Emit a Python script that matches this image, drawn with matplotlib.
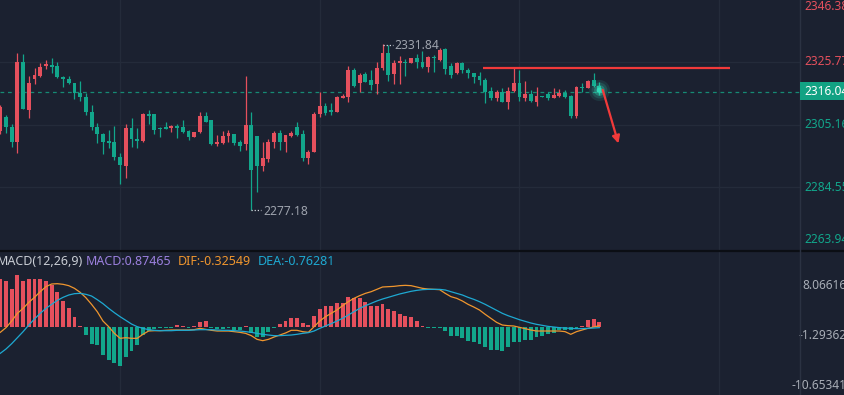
import numpy as np
import matplotlib.pyplot as plt
from matplotlib import transforms
from matplotlib.lines import Line2D
from matplotlib.patches import Rectangle

plt.rcParams['font.family'] = ['Noto Sans', 'DejaVu Sans']

# candles (red = up, green = down)
opens = [2303.1, 2307.7, 2304.4, 2299.5, 2325.8, 2310.0, 2320.2, 2321.2, 2324.5, 2324.8,
         2324.5, 2320.8, 2320.2, 2318.9, 2315.6, 2314.3, 2309.3, 2304.4, 2302.1, 2299.8,
         2299.5, 2294.5, 2291.6, 2304.1, 2300.5, 2299.8, 2308.7, 2308.7, 2304.1, 2304.4,
         2304.1, 2304.7, 2304.4, 2303.1, 2301.1, 2302.8, 2308.0, 2306.7, 2298.8, 2299.2,
         2301.5, 2302.1, 2299.5, 2298.8, 2305.1, 2301.5, 2291.6, 2293.9, 2299.5, 2302.4,
         2299.5, 2301.5, 2304.4, 2302.1, 2294.2, 2296.2, 2308.7, 2311.3, 2310.0, 2309.3,
         2313.9, 2314.3, 2323.1, 2318.9, 2321.8, 2319.9, 2318.5, 2323.8, 2328.7, 2321.8,
         2325.4, 2325.8, 2325.4, 2327.1, 2325.8, 2324.1, 2327.4, 2326.4, 2330.0, 2324.5,
         2322.2, 2325.4, 2323.1, 2322.2, 2321.2, 2319.9, 2316.2, 2313.9, 2315.9, 2312.6,
         2316.2, 2318.9, 2313.9, 2315.3, 2312.6, 2314.6, 2315.3, 2313.9, 2314.6, 2315.6,
         2314.6, 2308.0, 2317.6, 2317.2, 2319.9, 2317.9]
highs = [2311.6, 2308.3, 2305.4, 2328.7, 2328.4, 2321.2, 2323.8, 2325.4, 2326.4, 2327.1,
         2325.8, 2321.2, 2321.2, 2318.9, 2319.5, 2315.6, 2311.6, 2305.7, 2302.4, 2303.4,
         2304.7, 2295.9, 2305.4, 2307.4, 2304.1, 2309.0, 2310.0, 2308.7, 2304.4, 2306.0,
         2305.1, 2305.4, 2306.7, 2303.4, 2302.8, 2309.3, 2309.3, 2306.7, 2301.8, 2303.1,
         2303.4, 2302.1, 2300.1, 2321.2, 2309.3, 2301.5, 2299.5, 2300.5, 2303.1, 2303.4,
         2301.8, 2303.1, 2306.1, 2303.4, 2296.9, 2309.3, 2315.9, 2312.3, 2312.3, 2314.6,
         2315.3, 2324.5, 2323.8, 2322.2, 2322.5, 2323.1, 2325.8, 2331.84, 2331.4, 2326.4,
         2327.7, 2326.8, 2327.1, 2328.4, 2329.4, 2327.7, 2328.1, 2330.4, 2330.4, 2325.4,
         2325.8, 2325.8, 2323.8, 2322.2, 2322.5, 2320.5, 2317.6, 2316.6, 2317.2, 2317.6,
         2323.8, 2323.1, 2319.5, 2316.6, 2317.6, 2314.6, 2315.9, 2317.2, 2316.9, 2316.6,
         2314.9, 2317.9, 2318.9, 2319.9, 2322.2, 2319.2]
lows = [2302.1, 2302.4, 2297.8, 2295.9, 2310.2, 2307.4, 2318.5, 2320.8, 2323.5, 2322.2,
        2320.5, 2317.6, 2318.5, 2313.6, 2312.9, 2308.3, 2303.4, 2299.2, 2295.5, 2297.5,
        2293.6, 2285.7, 2287.6, 2297.8, 2297.5, 2299.5, 2305.4, 2302.1, 2301.1, 2303.7,
        2302.8, 2300.8, 2302.4, 2300.1, 2301.1, 2302.4, 2306.1, 2298.5, 2298.2, 2298.8,
        2299.5, 2298.5, 2296.5, 2296.9, 2277.18, 2283.0, 2289.9, 2292.9, 2297.5, 2296.9,
        2296.2, 2301.1, 2301.5, 2293.2, 2292.2, 2296.2, 2307.7, 2308.4, 2308.4, 2309.3,
        2313.9, 2312.6, 2317.6, 2315.9, 2319.2, 2316.6, 2315.3, 2323.1, 2319.5, 2318.5,
        2318.5, 2321.2, 2325.4, 2323.8, 2323.8, 2322.5, 2322.5, 2326.1, 2321.8, 2320.5,
        2321.8, 2322.2, 2320.5, 2318.9, 2318.2, 2312.3, 2313.3, 2312.9, 2312.6, 2310.3,
        2315.9, 2312.9, 2312.9, 2312.6, 2311.3, 2314.3, 2313.3, 2313.9, 2314.3, 2313.9,
        2307.4, 2307.4, 2315.9, 2317.2, 2317.6, 2314.9]
closes = [2311.0, 2304.4, 2299.5, 2325.8, 2310.3, 2318.9, 2321.5, 2324.1, 2325.1, 2324.1,
          2320.8, 2320.2, 2318.9, 2315.6, 2314.3, 2309.3, 2304.4, 2302.1, 2299.5, 2299.2,
          2294.5, 2291.9, 2304.1, 2300.5, 2299.8, 2308.7, 2308.0, 2303.4, 2303.7, 2303.7,
          2304.7, 2304.1, 2302.8, 2301.1, 2302.8, 2308.0, 2306.1, 2298.8, 2299.5, 2301.5,
          2302.4, 2299.2, 2298.2, 2305.1, 2290.3, 2291.6, 2294.2, 2299.5, 2302.4, 2299.5,
          2301.8, 2302.4, 2301.8, 2294.2, 2296.2, 2308.7, 2311.3, 2309.0, 2309.3, 2314.3,
          2314.6, 2323.1, 2317.9, 2321.5, 2319.2, 2318.2, 2323.8, 2328.7, 2321.5, 2325.4,
          2326.1, 2325.4, 2327.1, 2325.8, 2324.1, 2327.4, 2327.1, 2329.7, 2323.5, 2321.5,
          2325.4, 2323.1, 2322.2, 2320.8, 2319.9, 2315.9, 2313.9, 2315.9, 2312.6, 2316.2,
          2318.9, 2314.3, 2315.3, 2312.9, 2314.6, 2314.3, 2313.9, 2314.9, 2315.6, 2314.3,
          2308.0, 2317.6, 2317.2, 2319.5, 2317.9, 2316.04]

# MACD panel
macd = [8.97, 8.65, 7.17, 9.77, 8.65, 8.97, 9.08, 9.08, 8.65, 7.86,
        6.49, 4.95, 3.59, 1.85, 0.18, -1.41, -3.21, -3.39, -5.24, -6.17,
        -6.78, -7.23, -5.56, -4.50, -3.39, -1.41, -0.67, -0.43, -0.18, -0.18,
        -0.18, 0.44, 0.18, -0.18, 0.18, 0.93, 1.06, -0.18, -0.30, -0.30,
        -0.20, -0.48, -0.61, 0.18, -1.04, -1.85, -1.85, -0.93, -0.18, 0.50,
        1.06, 1.67, 1.67, 0.74, 0.44, 2.04, 3.41, 3.84, 3.84, 4.52,
        4.52, 5.69, 5.45, 5.45, 4.63, 3.89, 3.89, 4.34, 3.41, 2.91,
        2.48, 2.04, 1.85, 1.15, 0.18, -0.18, -0.18, -0.18, -0.80, -1.67,
        -1.67, -2.04, -2.65, -2.78, -3.26, -3.71, -4.32, -4.32, -4.50, -3.71,
        -2.78, -2.78, -2.46, -2.46, -1.85, -1.67, -1.22, -1.04, -0.61, -0.61,
        -0.61, -0.18, 0.18, 1.24, 1.43, 0.87465]
dif = [-1.00, -0.12, 1.12, 2.56, 3.49, 4.62, 5.55, 6.61, 7.55, 8.05,
       8.11, 7.99, 7.74, 7.24, 6.49, 5.49, 4.24, 2.87, 1.12, 0.06,
       -1.19, -2.12, -2.00, -2.12, -2.12, -1.37, -0.75, -0.69, -0.69, -0.62,
       -0.56, -0.56, -0.56, -0.56, -0.50, -0.25, -0.44, -0.62, -0.75, -0.75,
       -0.75, -0.87, -1.00, -1.19, -1.62, -2.31, -2.56, -2.31, -1.87, -1.50,
       -1.12, -0.62, -0.62, -0.87, -1.00, 0.06, 1.12, 1.93, 2.56, 3.18,
       3.99, 4.74, 5.37, 5.87, 6.30, 6.61, 7.05, 7.49, 7.55, 7.61,
       7.74, 7.80, 7.74, 7.49, 7.24, 7.11, 7.05, 6.99, 6.30, 5.68,
       5.37, 4.87, 4.24, 3.74, 3.18, 2.37, 1.62, 0.87, 0.37, 0.25,
       0.19, -0.06, -0.31, -0.56, -0.75, -0.75, -0.75, -0.75, -0.75, -0.87,
       -1.37, -0.87, -0.56, -0.25, 0.00, 0.25]
dea = [-4.93, -4.12, -3.12, -2.00, -0.87, 0.37, 1.50, 2.56, 3.49, 4.24,
       4.99, 5.55, 5.99, 6.24, 6.30, 6.12, 5.80, 5.12, 4.37, 3.49,
       2.68, 1.93, 1.25, 0.56, 0.06, -0.25, -0.50, -0.62, -0.69, -0.69,
       -0.69, -0.62, -0.62, -0.62, -0.56, -0.50, -0.50, -0.50, -0.56, -0.62,
       -0.62, -0.69, -0.75, -0.87, -1.00, -1.19, -1.37, -1.50, -1.62, -1.62,
       -1.56, -1.50, -1.37, -1.19, -1.06, -0.75, -0.25, 0.19, 0.62, 1.12,
       1.62, 2.25, 2.87, 3.49, 3.99, 4.43, 4.87, 5.24, 5.55, 5.87,
       6.18, 6.43, 6.68, 6.86, 6.99, 7.05, 7.05, 7.05, 6.93, 6.61,
       6.30, 5.99, 5.55, 5.18, 4.74, 4.24, 3.68, 3.12, 2.56, 2.12,
       1.75, 1.37, 1.06, 0.75, 0.50, 0.31, 0.12, 0.00, -0.12, -0.19,
       -0.25, -0.31, -0.31, -0.25, -0.19, -0.12]

price_ticks = [2346.38, 2325.77, 2305.16, 2284.55, 2263.94]
macd_ticks = ["8.06616", "-1.29362", "-10.65341"]
macd_tick_vals = [8.06616, -1.29362, -10.65341]
last_price = 2316.04
hi_val, hi_idx = 2331.84, 67
lo_val, lo_idx = 2277.18, 44
resist = 2323.8
grid_x = [21, 56, 91, 126]

bg = '#1b2130'
up = '#e5505d'
down = '#12a68b'
grid_c = '#242b3a'

W, H = 845, 395
fig = plt.figure(figsize=(W / 100, H / 100), dpi=100)
fig.patch.set_facecolor(bg)
ax = fig.add_axes([0, 145 / H, 800 / W, 250 / H])
ax2 = fig.add_axes([0, 0, 800 / W, 144 / H])
step = 5.705
for a in (ax, ax2):
    a.set_facecolor(bg)
    a.set_xlim(-0.05, -0.05 + 800 / step)
    for s in a.spines.values():
        s.set_visible(False)
    a.set_xticks([])
    a.set_yticks([])
    for gx in grid_x:
        a.axvline(gx, color=grid_c, lw=1, zorder=0)

ax.set_ylim(2263.97, 2346.15)
ax2.set_ylim(-12.73, 14.23)
for p in price_ticks[1:4]:
    ax.axhline(p, color=grid_c, lw=1, zorder=0)

idx = np.arange(len(opens))
o = np.array(opens); c = np.array(closes)
cols = [up if cc >= oo else down for oo, cc in zip(o, c)]
ax.vlines(idx, lows, highs, colors=cols, lw=0.9, zorder=2)
hgt = np.maximum(np.abs(c - o), 0.4)
ax.bar(idx, hgt, bottom=np.minimum(o, c), width=0.68, color=cols, zorder=3)

# current price line + glow
ax.axhline(last_price, color='#168a74', lw=0.9, ls=(0, (3, 3)), zorder=1)
for s, al in [(230, 0.10), (130, 0.16), (60, 0.28), (18, 0.6)]:
    ax.scatter([idx[-1]], [last_price + 0.5], s=s, color='#3ae8c4', alpha=al,
               lw=0, zorder=4)

# max / min markers
ax.plot([hi_idx + 0.1, hi_idx + 1.75], [hi_val - 0.5] * 2, color='#d0d4da', lw=0.9,
        ls=(0, (1, 1.5)))
ax.text(hi_idx + 2.05, hi_val - 0.6, '2331.84', color='#9ea3ad', fontsize=8.7,
        va='center', ha='left')
ax.plot([lo_idx, lo_idx + 1.7], [lo_val + 0.1] * 2, color='#d0d4da', lw=0.9,
        ls=(0, (1, 1.5)))
ax.text(lo_idx + 2.1, lo_val - 0.7, '2277.18', color='#9ea3ad', fontsize=8.7,
        va='center', ha='left')

# drawn resistance line and arrow
ax.hlines(resist, 84.6, 127.9, color='#f23a3a', lw=1.6, zorder=5)
ax.annotate('', xy=(108.35, 2299.0), xytext=(105.6, 2316.6),
            arrowprops=dict(arrowstyle='-|>', color='#f23a3a', lw=1.6,
                            mutation_scale=11, shrinkA=0, shrinkB=0), zorder=5)

# right price axis
tr = transforms.blended_transform_factory(fig.transFigure, ax.transData)
for i, p in enumerate(price_ticks):
    col = up if p > last_price else down
    y = p
    if i == 0:
        y = 2346.15 - 0.3287 * 7
    if i == len(price_ticks) - 1:
        y = 2346.15 - 0.3287 * 240
    ax.text(804 / W, y, f'{p:.2f}', transform=tr, color=col, fontsize=8.6,
            va='center', ha='left', clip_on=False)
fig.add_artist(Rectangle((800 / W, (H - 100) / H), 45 / W, 18 / H,
                         transform=fig.transFigure, color='#12a283', lw=0,
                         zorder=5))
fig.text(804 / W, 1 - 91.5 / H, f'{last_price:.2f}', color='white',
         fontsize=8.6, va='center', ha='left', zorder=6)

tr2 = transforms.blended_transform_factory(fig.transFigure, ax2.transData)
for lab, v in zip(macd_ticks, macd_tick_vals):
    ax2.text(847 / W, v - 0.25, lab, transform=tr2, color='#a8adb6', fontsize=8.6,
             va='center', ha='right', clip_on=False)

# MACD
mcols = [up if v > 0 else down for v in macd]
ax2.bar(idx, macd, width=0.68, color=mcols, zorder=2)
ax2.plot(idx, dif, color='#f0962e', lw=0.9, zorder=3)
ax2.plot(idx, dea, color='#1ea9d2', lw=0.9, zorder=3)

ty = 1 - 261.5 / H
for x, s, col in [(-3, 'MACD(12,26,9)', '#c9cdd4'), (86, 'MACD:0.87465', '#9b80de'),
                  (178, 'DIF:-0.32549', '#f0962e'), (258, 'DEA:-0.76281', '#1ea9d2')]:
    fig.text(x / W, ty, s, color=col, fontsize=9, va='center', ha='left')

# frame lines
fig.add_artist(Line2D([0, 1], [144.5 / H] * 2, color='#0b0e14', lw=1.6,
                      transform=fig.transFigure))
fig.add_artist(Line2D([800.5 / W] * 2, [0, 1], color='#2b3242', lw=1,
                      transform=fig.transFigure))

fig.savefig('out.png', dpi=100, facecolor=bg)
